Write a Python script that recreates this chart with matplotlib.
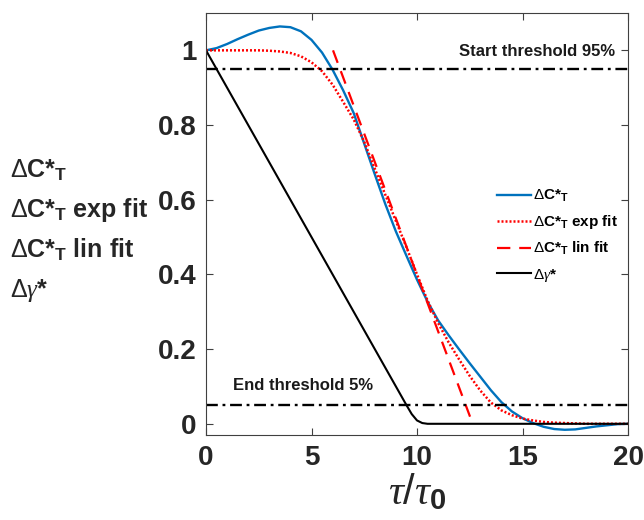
import numpy as np
import matplotlib
matplotlib.use("Agg")
import matplotlib.pyplot as plt

plt.rcParams['font.family'] = ['Liberation Sans', 'DejaVu Sans']
plt.rcParams['mathtext.fontset'] = 'custom'
plt.rcParams['mathtext.rm'] = 'Liberation Sans'
plt.rcParams['mathtext.bf'] = 'Liberation Sans:bold'
plt.rcParams['mathtext.it'] = 'Liberation Serif:italic'

# ---- data ----
tau = [0, 0.5, 1, 1.5, 2, 2.5, 3, 3.5, 4, 4.5, 5, 5.5, 6, 6.5, 7, 7.5, 8, 8.5, 9, 9.5,
       10, 10.5, 11, 11.5, 12, 12.5, 13, 13.5, 14, 14.5, 15, 15.5, 16, 16.5, 17, 17.5,
       18, 18.5, 19, 19.5, 20]
dC = [1.000, 1.006, 1.017, 1.030, 1.042, 1.053, 1.060, 1.064, 1.062, 1.051, 1.028,
      0.994, 0.948, 0.893, 0.832, 0.750, 0.668, 0.588, 0.515, 0.450, 0.386, 0.327,
      0.277, 0.237, 0.199, 0.162, 0.126, 0.090, 0.058, 0.033, 0.015, 0.002, -0.008,
      -0.014, -0.016, -0.015, -0.011, -0.007, -0.004, -0.001, 0.000]
dC_exp = [1.000, 1.000, 1.000, 1.000, 1.000, 1.000, 0.999, 0.997, 0.993, 0.984, 0.968,
          0.944, 0.908, 0.862, 0.815, 0.755, 0.683, 0.613, 0.543, 0.473, 0.400, 0.330,
          0.270, 0.218, 0.172, 0.128, 0.089, 0.057, 0.036, 0.023, 0.014, 0.009, 0.005,
          0.003, 0.002, 0.001, 0.000, 0.000, 0.000, 0.000, 0.000]
lin_tau = [6.02, 12.64]
dC_lin = [1.0, 0.0]
gamma_tau = [0, 1, 2, 3, 4, 5, 6, 7, 8, 9, 9.5, 9.75, 10, 10.25, 10.5, 20]
dgamma = [1.0, 0.9, 0.8, 0.7, 0.6, 0.5, 0.4, 0.3, 0.2, 0.1, 0.05, 0.026, 0.009, 0.002, 0.0, 0.0]
thresholds = [0.95, 0.05]
threshold_labels = ['Start threshold 95%', 'End threshold 5%']
legend_labels = [r'$\Delta$C*$_\mathbf{T}$', r'$\Delta$C*$_\mathbf{T}$ exp fit',
                 r'$\Delta$C*$_\mathbf{T}$ lin fit', r'$\Delta\gamma$*']
xticks = [0, 5, 10, 15, 20]
yticks = [0, 0.2, 0.4, 0.6, 0.8, 1]
ytick_labels = ['0', '0.2', '0.4', '0.6', '0.8', '1']

fig = plt.figure(figsize=(6.44, 5.2), dpi=100)
ax = fig.add_axes([206/644, 1-435/520, 422/644, 422/520])

ax.plot(tau, dC, color='#0072BD', lw=1.7, label=legend_labels[0])
ax.plot(tau, dC_exp, color='red', lw=1.8, ls=(0, (0.8, 0.8)), label=legend_labels[1])
ax.plot(lin_tau, dC_lin, color='red', lw=1.6, ls=(0, (6, 4)), label=legend_labels[2])
ax.plot(gamma_tau, dgamma, color='black', lw=1.5, label=legend_labels[3])
for th in thresholds:
    ax.axhline(th, color='black', lw=1.7, ls=(0, (5, 2, 1.2, 2)))

ax.text(19.4, 0.997, threshold_labels[0], ha='right', va='center', fontsize=12,
        fontweight='bold', color='#1a1a1a')
ax.text(1.3, 0.102, threshold_labels[1], ha='left', va='center', fontsize=12,
        fontweight='bold', color='#1a1a1a')

ax.set_xlim(0, 20)
ax.set_ylim(-0.03, 1.1)
ax.set_xticks(xticks)
ax.set_yticks(yticks)
ax.set_yticklabels(ytick_labels)
ax.tick_params(direction='in', top=True, right=True, length=5, width=0.8,
               color='#404040', labelsize=20, labelcolor='#262626', pad=7)
for lab in ax.get_xticklabels() + ax.get_yticklabels():
    lab.set_fontweight('bold')
for sp in ax.spines.values():
    sp.set_color('#404040')
    sp.set_linewidth(0.8)

ax.set_xlabel(r'$\tau/\tau_\mathbf{0}$', fontsize=30, labelpad=1, color='#262626')

ylines = [r'$\Delta$C*$_\mathbf{T}$', r'$\Delta$C*$_\mathbf{T}$ exp fit',
          r'$\Delta$C*$_\mathbf{T}$ lin fit', r'$\Delta\gamma$*']
for i, t in enumerate(ylines):
    fig.text(10/644, 1-(177 + 40*i)/520, t, fontsize=18, fontweight='bold',
             ha='left', va='baseline', color='#262626')

leg = ax.legend(loc='upper left', bbox_to_anchor=(0.657, 0.618), frameon=False,
                fontsize=11, handlelength=2.2, labelspacing=0.6, handletextpad=0.15)
for t in leg.get_texts():
    t.set_fontweight('bold')

fig.savefig('out.png', dpi=100)
